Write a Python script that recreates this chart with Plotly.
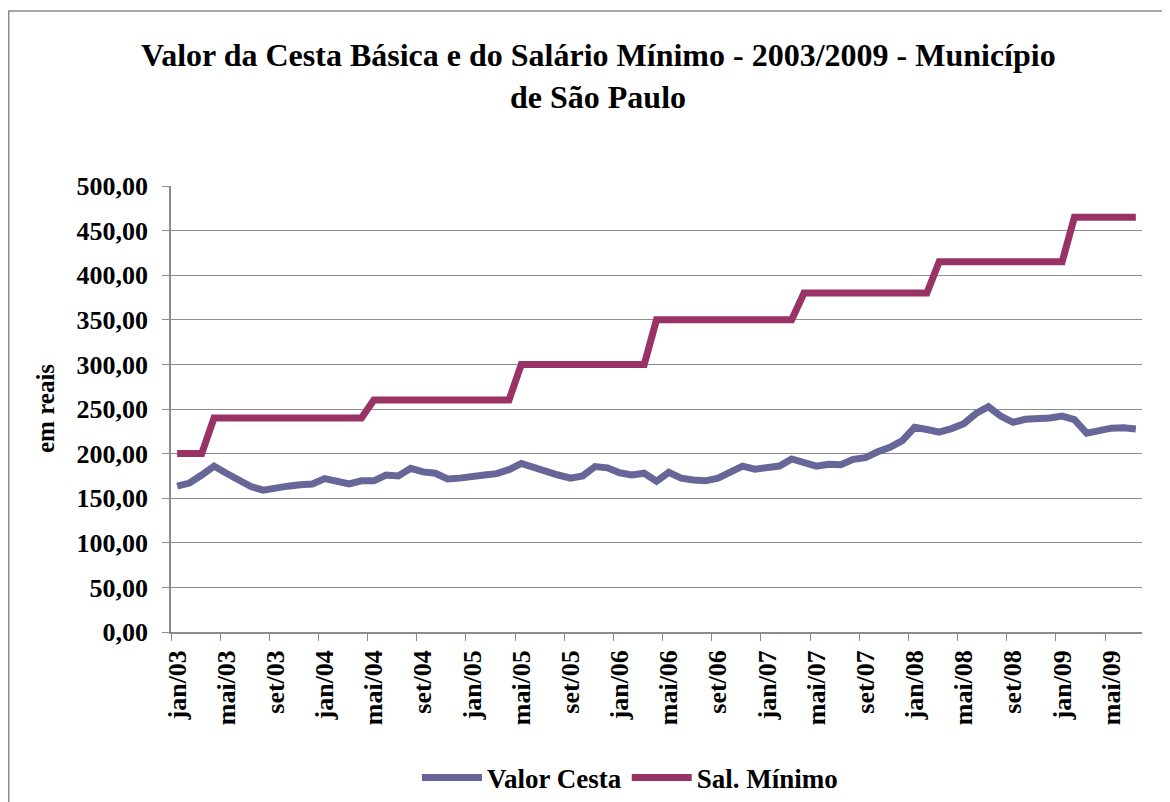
import plotly.graph_objects as go

months = []
mnames = ["jan", "fev", "mar", "abr", "mai", "jun", "jul", "ago", "set", "out", "nov", "dez"]
for yr in range(3, 10):
    for m in mnames:
        months.append(f"{m}/{yr:02d}")
months = months[:79]  # jan/03 .. jul/09

valor_cesta = [
    163.5, 167, 176, 186, 178, 171, 163, 159, 162, 163.5, 165, 166,
    172, 168, 166, 169.5, 169.5, 176, 175, 183.5, 179.5, 178, 171.5, 172.5,
    173.5, 176, 177.5, 182, 189, 184, 179, 176, 172.5, 175, 185.5, 184,
    178.5, 176, 178, 169, 179, 172.5, 170.5, 169.5, 172.5, 180, 186, 182.5,
    185, 186, 194, 189.5, 186, 188, 187.5, 193.5, 195.5, 202, 207, 214.5,
    229.5, 227, 224, 228, 233.5, 245, 252.5, 242, 235, 238.5, 239, 240,
    242, 238, 223, 226.5, 228.5, 229, 227.5,
]

sal_minimo = (
    [200.0] * 3 + [240.0] * 13 + [260.0] * 12 + [300.0] * 11 + [350.0] * 12
    + [380.0] * 11 + [415.0] * 11 + [465.0] * 6
)

tick_labels = months[::4]
y_ticks = [0, 50, 100, 150, 200, 250, 300, 350, 400, 450, 500]
y_tick_text = [f"{v:.2f}".replace(".", ",") for v in y_ticks]

x_idx = list(range(len(months)))

FONT = "Liberation Serif, Times New Roman, serif"

fig = go.Figure()
fig.add_trace(go.Scatter(
    x=x_idx, y=valor_cesta, mode="lines", name="Valor Cesta",
    line=dict(color="#666699", width=7),
))
fig.add_trace(go.Scatter(
    x=x_idx, y=sal_minimo, mode="lines", name="Sal. Mínimo",
    line=dict(color="#993366", width=7),
))

OFF = 8  # page body margin
W, H = 1162, 794
L = 171 - OFF
T = 186 - OFF
pw, ph = 971, 446
R = W - L - pw
B = H - T - ph

def px_x(px):
    return (px - OFF - L) / pw

def px_y(py):
    return (T + ph - (py - OFF)) / ph

fig.update_layout(
    width=W, height=H,
    margin=dict(l=L, r=R, t=T, b=B, autoexpand=False),
    paper_bgcolor="white", plot_bgcolor="white",
    font=dict(family=FONT, color="black", size=26, weight="bold"),
    showlegend=True,
    legend=dict(
        orientation="h", x=px_x(630), xanchor="center",
        y=px_y(778), yanchor="middle",
        font=dict(family=FONT, size=27, color="black", weight="bold"),
        bgcolor="rgba(0,0,0,0)", itemwidth=60,
    ),
    xaxis=dict(
        range=[-0.5, len(months) - 0.5],
        tickmode="array", tickvals=x_idx[::4], ticktext=tick_labels,
        tickangle=-90, ticks="outside", ticklen=6, tickcolor="rgba(0,0,0,0)",
        ticklabelstandoff=0,
        tickfont=dict(family=FONT, size=26, color="black", weight="bold"),
        showgrid=False, zeroline=False,
        showline=True, linecolor="#8c8c8c", linewidth=1.5,
        minor=dict(tickmode="array", tickvals=[i - 0.5 for i in x_idx[::4]],
                   ticks="outside", ticklen=7, tickcolor="#8c8c8c", tickwidth=1.2,
                   showgrid=False),
        fixedrange=True,
    ),
    yaxis=dict(
        range=[0, 500],
        tickmode="array", tickvals=y_ticks, ticktext=y_tick_text,
        ticks="outside", ticklen=7, tickcolor="#8c8c8c", tickwidth=1.2,
        ticklabelstandoff=9,
        tickfont=dict(family=FONT, size=26, color="black", weight="bold"),
        showgrid=True, gridcolor="#8c8c8c", gridwidth=1,
        zeroline=False,
        showline=True, linecolor="#8c8c8c", linewidth=1.5,
        fixedrange=True,
    ),
    shapes=[dict(
        type="rect", xref="paper", yref="paper",
        x0=px_x(OFF + 0.75), x1=px_x(1190), y0=px_y(830), y1=px_y(11),
        line=dict(color="#8c8c8c", width=1.5), fillcolor="rgba(0,0,0,0)",
        layer="below",
    )],
    annotations=[
        dict(text="Valor da Cesta Básica e do Salário Mínimo - 2003/2009 - Município",
             xref="paper", yref="paper", x=px_x(598), y=px_y(55),
             xanchor="center", yanchor="middle", showarrow=False,
             font=dict(family=FONT, size=32, color="black", weight="bold")),
        dict(text="de São Paulo",
             xref="paper", yref="paper", x=px_x(598), y=px_y(97),
             xanchor="center", yanchor="middle", showarrow=False,
             font=dict(family=FONT, size=32, color="black", weight="bold")),
        dict(text="em reais", textangle=-90,
             xref="paper", yref="paper", x=px_x(45), y=px_y(408),
             xanchor="center", yanchor="middle", showarrow=False,
             font=dict(family=FONT, size=25, color="black", weight="bold")),
    ],
)

fig.write_html("out.html")
